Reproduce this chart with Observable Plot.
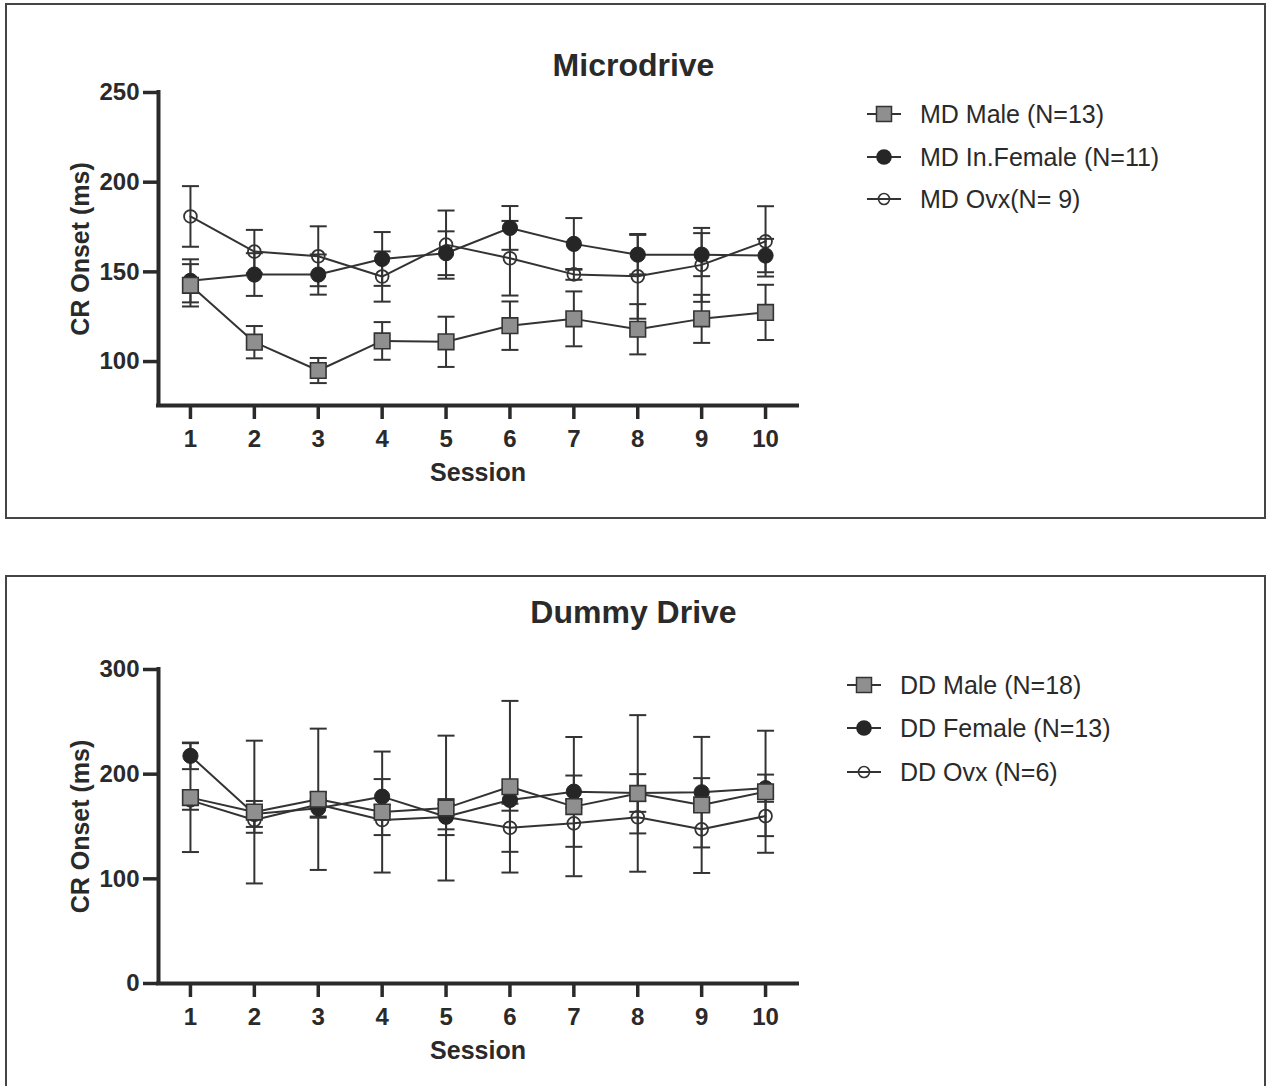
<!DOCTYPE html>
<html>
<head>
<meta charset="utf-8">
<script src="https://cdn.jsdelivr.net/npm/d3@7"></script>
<script src="https://cdn.jsdelivr.net/npm/@observablehq/plot@0.6"></script>
<style>
  html, body { margin: 0; padding: 0; background: #fff; width: 1267px; height: 1086px; overflow: hidden; }
  body { position: relative; font-family: "Liberation Sans", Arial, sans-serif; color: #2a2a2a; }
  .panel { position: absolute; border: 2px solid #454545; box-sizing: border-box; }
  .title { position: absolute; left: 0; width: 1267px; text-align: center; font-weight: bold; font-size: 32px; line-height: 32px; color: #2a2a2a; }
  .legend-row { position: absolute; height: 30px; display: flex; align-items: center; font-size: 25px; color: #2a2a2a; white-space: nowrap; }
  .legend-row svg { overflow: visible; }
  .chart { position: absolute; left: 0; }
</style>
</head>
<body>
<div class="panel" style="left:5px; top:3px; width:1261px; height:516px;"></div>
<div class="panel" style="left:5px; top:575px; width:1261px; height:530px;"></div>
<div class="title" style="top:49px;">Microdrive</div>
<div class="title" style="top:596px;">Dummy Drive</div>
<div id="c1" class="chart" style="top:0px;"></div>
<div id="c2" class="chart" style="top:560px;"></div>
<div id="legend"></div>
<script>
// ---------- data ----------
const sessions = [1, 2, 3, 4, 5, 6, 7, 8, 9, 10];

// Microdrive (top)
const mdLabels = ["MD Male (N=13)", "MD In.Female (N=11)", "MD Ovx(N= 9)"];
const mdMale      = [142.5, 110.8, 95.0, 111.5, 111.0, 120.0, 123.8, 118.0, 123.8, 127.4];
const mdMaleErr   = [11.8, 9.0, 7.0, 10.5, 14.0, 13.5, 15.3, 14.0, 13.4, 15.4];
const mdFemale    = [145.0, 148.5, 148.5, 157.2, 160.4, 174.5, 165.6, 159.6, 159.6, 159.1];
const mdFemaleErr = [12.0, 11.9, 11.2, 15.0, 12.2, 12.2, 14.4, 11.0, 12.0, 9.3];
const mdOvx       = [180.9, 161.3, 158.7, 147.4, 165.2, 157.6, 148.6, 147.5, 153.9, 167.0];
const mdOvxErr    = [16.9, 12.1, 16.7, 14.0, 19.0, 20.8, 3.0, 23.6, 20.6, 19.6];

// Dummy Drive (bottom)
const ddLabels = ["DD Male (N=18)", "DD Female (N=13)", "DD Ovx (N=6)"];
const ddMale      = [177.6, 163.8, 176.0, 163.8, 167.6, 188.0, 169.0, 181.6, 170.6, 183.2];
const ddMaleErr   = [52.0, 68.2, 67.5, 57.8, 69.2, 82.0, 66.5, 74.8, 65.0, 58.3];
const ddFemale    = [217.5, 162.0, 167.4, 178.5, 159.3, 175.4, 183.3, 182.0, 182.7, 186.6];
const ddFemaleErr = [12.7, 12.4, 9.0, 16.8, 12.0, 10.3, 15.4, 18.0, 13.5, 13.0];
const ddOvx       = [175.0, 156.2, 171.0, 156.2, 159.0, 148.8, 153.0, 158.8, 147.3, 160.0];
const ddOvxErr    = [9.0, 12.2, 11.5, 14.4, 17.2, 23.0, 22.4, 15.4, 17.3, 19.2];

const xTicks = sessions;
const mdYTicks = [100, 150, 200, 250];
const ddYTicks = [0, 100, 200, 300];
const mdYDomain = [75.5, 250];
const ddYDomain = [0, 300];
const xDomain = [0.5, 10.5];

// ---------- styles ----------
const INK = "#2a2a2a";
const LINE = "#333333";
const GREY = "#8f8f8f";
const FONT = "Liberation Sans, Arial, sans-serif";

const capSymbol = {
  draw(context, size) {
    const h = Math.sqrt(size / Math.PI);
    context.moveTo(-h, 0);
    context.lineTo(h, 0);
  }
};

function rows(values, errs) {
  return sessions.map((s, i) => ({session: s, value: values[i], err: errs[i]}));
}

function seriesMarks(data) {
  return [
    Plot.ruleX(data, {x: "session", y1: d => d.value - d.err, y2: d => d.value + d.err, stroke: LINE, strokeWidth: 2}),
    Plot.dot(data, {x: "session", y: d => d.value + d.err, symbol: capSymbol, r: 8.5, stroke: LINE, strokeWidth: 2}),
    Plot.dot(data, {x: "session", y: d => d.value - d.err, symbol: capSymbol, r: 8.5, stroke: LINE, strokeWidth: 2}),
    Plot.line(data, {x: "session", y: "value", stroke: LINE, strokeWidth: 2})
  ];
}

function makeChart({male, female, ovx, yDomain, yTicks, height, marginTop, marginBottom}) {
  return Plot.plot({
    width: 1267,
    height,
    marginLeft: 158,
    marginRight: 470,
    marginTop,
    marginBottom,
    style: {background: "none", fontFamily: FONT, color: INK, overflow: "visible"},
    x: {domain: xDomain},
    y: {domain: yDomain},
    marks: [
      ...seriesMarks(ovx),
      ...seriesMarks(female),
      ...seriesMarks(male),
      Plot.dot(ovx, {x: "session", y: "value", symbol: "circle", r: 6.4, fill: "none", stroke: LINE, strokeWidth: 1.8}),
      Plot.dot(female, {x: "session", y: "value", symbol: "circle", r: 7.6, fill: "#262626", stroke: "#262626", strokeWidth: 1}),
      Plot.dot(male, {x: "session", y: "value", symbol: "square", r: 8.8, fill: GREY, stroke: LINE, strokeWidth: 1.6}),
      Plot.ruleX([xDomain[0]], {stroke: INK, strokeWidth: 4, strokeLinecap: "square"}),
      Plot.ruleY([yDomain[0]], {stroke: INK, strokeWidth: 4, strokeLinecap: "square"}),
      Plot.axisY({ticks: yTicks, tickSize: 15, tickPadding: 4, strokeWidth: 3.5, fontSize: 24, fontWeight: "bold", color: INK, label: null}),
      Plot.axisX({ticks: xTicks, tickSize: 14, tickPadding: 10, strokeWidth: 3.5, fontSize: 24, fontWeight: "bold", color: INK, label: null, tickFormat: d => String(d)}),
      Plot.text(["CR Onset (ms)"], {frameAnchor: "left", dx: -78, rotate: -90, textAnchor: "middle", lineAnchor: "middle", fontSize: 25, fontWeight: "bold", fill: INK}),
      Plot.text(["Session"], {frameAnchor: "bottom", dy: 67, textAnchor: "middle", lineAnchor: "middle", fontSize: 25, fontWeight: "bold", fill: INK})
    ]
  });
}

document.getElementById("c1").append(makeChart({
  male: rows(mdMale, mdMaleErr), female: rows(mdFemale, mdFemaleErr), ovx: rows(mdOvx, mdOvxErr),
  yDomain: mdYDomain, yTicks: mdYTicks, height: 500, marginTop: 92, marginBottom: 95
}));
document.getElementById("c2").append(makeChart({
  male: rows(ddMale, ddMaleErr), female: rows(ddFemale, ddFemaleErr), ovx: rows(ddOvx, ddOvxErr),
  yDomain: ddYDomain, yTicks: ddYTicks, height: 526, marginTop: 109, marginBottom: 103
}));

// ---------- legends ----------
const symbolSvg = [
  `<rect x="9.5" y="2.5" width="15" height="15" fill="${GREY}" stroke="${LINE}" stroke-width="1.5"/>`,
  `<circle cx="17" cy="10" r="7.8" fill="#262626"/>`,
  `<circle cx="17" cy="10" r="5.5" fill="none" stroke="${LINE}" stroke-width="1.6"/>`
];
function legend(labels, symX, textX, centers) {
  const host = document.getElementById("legend");
  labels.forEach((lab, i) => {
    const row = document.createElement("div");
    row.className = "legend-row";
    row.style.left = (symX - 17) + "px";
    row.style.top = (centers[i] - 15) + "px";
    row.innerHTML = `<svg width="34" height="20" viewBox="0 0 34 20"><line x1="0" y1="10" x2="34" y2="10" stroke="${LINE}" stroke-width="1.8"/>${symbolSvg[i]}</svg><span>${lab}</span>`;
    row.querySelector("svg").style.marginRight = (textX - symX - 17) + "px";
    host.append(row);
  });
}
legend(mdLabels, 884, 920, [114, 157, 199]);
legend(ddLabels, 864, 900, [685, 728, 772]);
</script>
</body>
</html>
